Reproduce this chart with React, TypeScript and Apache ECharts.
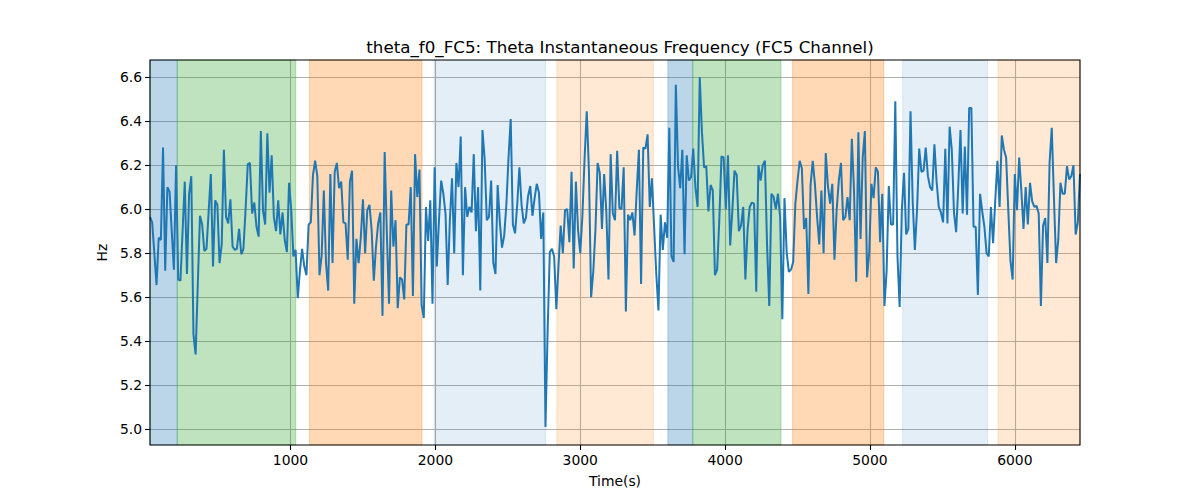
import { useEffect, useRef } from 'react'
import * as echarts from 'echarts'

// sampling grid of the frequency estimate (s)
const TIME_START = 30
const TIME_STEP = 15

// theta instantaneous frequency, FC5 channel (Hz)
const FREQ_HZ: number[] = [
  5.965, 5.94, 5.8, 5.655, 5.87, 5.86, 6.28, 5.72, 6.1, 6.08,
  5.9, 5.725, 6.2, 5.68, 5.675, 5.9, 6.125, 5.705, 6.07, 6.15,
  5.43, 5.34, 5.66, 5.97, 5.93, 5.81, 5.82, 5.99, 6.16, 5.74,
  6.04, 6.02, 5.755, 5.84, 6.27, 5.965, 5.935, 6.045, 5.83, 5.815,
  5.82, 5.91, 5.795, 5.82, 6.0, 6.205, 6.21, 5.98,
  6.03, 5.92, 5.875, 6.355, 5.995, 5.93, 6.345, 6.075, 6.245, 5.965,
  5.9, 6.04, 5.885, 5.985, 5.86, 5.805, 6.12, 5.995, 5.785, 5.815,
  5.595, 5.72, 5.82, 5.74, 5.7, 5.93, 5.94, 6.155, 6.22, 6.15,
  5.7, 5.79, 6.085, 5.755, 5.63, 6.16, 5.755, 6.17, 6.21, 6.095,
  6.125, 5.94, 5.935, 5.77, 6.125, 6.175, 5.57, 5.865,
  5.755, 5.87, 6.045, 5.8, 5.995, 6.02, 5.905, 5.675, 5.83, 5.935,
  5.985, 5.515, 6.26, 5.89, 5.57, 6.085, 5.83, 5.95, 5.55, 5.69,
  5.68, 5.59, 5.93, 5.93, 6.1, 5.605, 6.25, 6.055, 6.18, 5.565,
  5.505, 6.01, 5.855, 6.04, 5.57, 6.19, 5.74, 5.95, 6.13, 6.07,
  5.98, 5.655, 5.95, 6.14, 5.8, 6.21, 6.1,
  6.33, 5.7, 6.1, 5.965, 6.01, 5.985, 6.25, 5.9, 6.1, 5.63,
  6.36, 6.23, 5.95, 5.965, 6.13, 5.755, 5.705, 6.11, 5.94, 5.825,
  5.88, 6.02, 6.235, 6.41, 5.93, 5.89, 6.02, 6.19, 6.02, 5.935,
  5.96, 6.06, 6.105, 5.97, 6.05, 6.115, 6.075, 5.865, 5.985, 5.01,
  5.45, 5.805, 5.82, 5.785, 5.545, 5.745, 5.925, 5.8,
  5.995, 6.0, 5.85, 6.17, 5.73, 6.125, 5.905, 5.8, 5.97, 6.23,
  6.445, 6.175, 5.6, 5.715, 5.905, 6.21, 6.165, 5.91, 6.16, 5.99,
  5.68, 6.25, 5.98, 5.95, 6.265, 6.005, 6.0, 6.19, 5.535, 5.975,
  5.95, 5.985, 5.88, 6.085, 6.27, 5.66, 6.28, 6.275, 6.34, 6.01,
  6.14, 5.92, 5.705, 5.54, 5.975, 5.815, 5.94, 5.87,
  6.37, 5.785, 5.76, 6.565, 6.195, 6.095, 6.27, 5.795, 6.245, 6.13,
  6.145, 6.275, 6.1, 6.01, 6.6, 6.35, 6.19, 6.195, 5.99, 6.11,
  6.085, 5.7, 5.725, 5.95, 6.24, 6.235, 6.0, 6.245, 5.835, 5.995,
  6.175, 6.155, 5.9, 5.925, 6.01, 5.68, 5.905, 6.01, 6.03, 6.025,
  5.625, 6.2, 6.13, 6.2, 6.22, 5.83, 5.56, 6.07,
  6.055, 6.0, 6.07, 5.965, 5.5, 6.05, 5.805, 5.715, 5.725, 5.76,
  6.025, 6.13, 6.22, 6.185, 5.91, 5.96, 5.615, 6.11, 6.22, 6.115,
  5.965, 5.84, 6.085, 5.8, 6.255, 6.105, 6.025, 6.115, 5.77, 5.995,
  6.13, 6.21, 5.95, 5.965, 6.055, 5.95, 6.32, 6.085, 5.67, 6.35,
  5.865, 6.235, 6.355, 5.69, 5.805, 6.115, 6.05, 6.19,
  6.17, 5.85, 6.07, 5.56, 5.72, 6.105, 5.93, 5.93, 6.49, 5.785,
  5.555, 5.995, 6.165, 5.885, 5.91, 6.445, 6.035, 5.815, 5.995, 6.275,
  6.17, 6.175, 6.28, 6.15, 6.1, 6.085, 6.295, 6.125, 6.01, 5.985,
  5.94, 6.275, 5.935, 6.375, 6.27, 5.985, 5.895, 6.11, 6.36, 5.98,
  6.285, 5.975, 6.46, 6.46, 5.92, 5.92, 5.61,
  6.07, 5.99, 5.92, 5.8, 5.785, 6.01, 5.845, 6.04, 6.22, 6.01,
  6.335, 6.27, 6.235, 5.995, 5.765, 5.68, 6.16, 5.995, 6.235, 6.085,
  5.91, 6.1, 5.93, 6.12, 6.035, 6.01, 6.015, 5.98, 5.56, 5.925,
  5.96, 5.755, 6.21, 6.37, 6.055, 5.755, 5.86, 6.12, 6.07, 6.07,
  6.195, 6.135, 6.15, 6.2, 5.885, 5.94, 6.16,
]

// shaded segments (s)
const BAND_START = [30, 218, 1131, 1992, 2838, 3605, 3777, 4466, 5226, 5884]
const BAND_END = [218, 1036, 1908, 2762, 3505, 3777, 4386, 5096, 5812, 6450]
const BAND_KIND = ['blue', 'green', 'orange', 'paleBlue', 'paleOrange', 'blue', 'green', 'orange', 'paleBlue', 'paleOrange']

const X_TICKS = [1000, 2000, 3000, 4000, 5000, 6000]
const Y_TICKS = [5.0, 5.2, 5.4, 5.6, 5.8, 6.0, 6.2, 6.4, 6.6]

const BAND_COLORS: Record<string, string> = {
  blue: 'rgba(31, 119, 180, 0.3)',
  green: 'rgba(44, 160, 44, 0.3)',
  orange: 'rgba(255, 127, 14, 0.3)',
  paleBlue: 'rgba(31, 119, 180, 0.12)',
  paleOrange: 'rgba(255, 127, 14, 0.18)',
}

const FONT = 'DejaVu Sans, sans-serif'

export default function App() {
  const chartRef = useRef<HTMLDivElement>(null)

  useEffect(() => {
    if (!chartRef.current) return

    const chart = echarts.init(chartRef.current, undefined, { renderer: 'svg' })

    const points = FREQ_HZ.map((v, i) => [TIME_START + i * TIME_STEP, v])
    const bands = BAND_START.map((start, i) => [
      {
        xAxis: start,
        itemStyle: {
          color: BAND_COLORS[BAND_KIND[i]],
          borderColor: BAND_COLORS[BAND_KIND[i]],
          borderWidth: 1,
        },
      },
      { xAxis: BAND_END[i] },
    ])

    const tickStyle = { color: '#000', width: 1.1 }
    const gridLine = { show: true, lineStyle: { color: '#b0b0b0', width: 1.1 } }

    const option: any = {
      animation: false,
      backgroundColor: '#fff',
      title: {
        text: 'theta_f0_FC5: Theta Instantaneous Frequency (FC5 Channel)',
        left: 615,
        top: 33,
        textAlign: 'center',
        textStyle: { fontFamily: FONT, fontSize: 16.7, fontWeight: 'normal', color: '#000' },
      },
      grid: {
        left: 150,
        right: 120,
        top: 60,
        bottom: 55,
        show: true,
        borderColor: '#000',
        borderWidth: 1.1,
        backgroundColor: 'transparent',
        z: 5,
      },
      xAxis: {
        type: 'value',
        min: 30,
        max: 6450,
        z: 1,
        name: 'Time(s)',
        nameLocation: 'middle',
        nameGap: 29,
        nameTextStyle: { fontFamily: FONT, fontSize: 13.9, color: '#000' },
        axisLine: { show: false },
        axisTick: { show: true, length: 5, lineStyle: tickStyle, customValues: X_TICKS },
        axisLabel: {
          margin: 8,
          fontFamily: FONT,
          fontSize: 13.9,
          color: '#000',
          customValues: X_TICKS,
          formatter: (v: number) => String(v),
        },
        splitLine: gridLine,
      },
      yAxis: {
        type: 'value',
        min: 4.928,
        max: 6.678,
        z: 1,
        name: 'Hz',
        nameLocation: 'middle',
        nameGap: 40,
        nameRotate: 90,
        nameTextStyle: { fontFamily: FONT, fontSize: 13.9, color: '#000' },
        axisLine: { show: false },
        axisTick: { show: true, length: 5, lineStyle: tickStyle, customValues: Y_TICKS },
        axisLabel: {
          margin: 8,
          fontFamily: FONT,
          fontSize: 13.9,
          color: '#000',
          customValues: Y_TICKS,
          formatter: (v: number) => v.toFixed(1),
        },
        splitLine: gridLine,
      },
      series: [
        {
          name: 'segments',
          type: 'line',
          data: [],
          z: 0,
          silent: true,
          markArea: { silent: true, data: bands },
        },
        {
          name: 'theta_f0_FC5',
          type: 'line',
          data: points,
          z: 2,
          showSymbol: false,
          symbol: 'none',
          lineStyle: { color: '#1f77b4', width: 2 },
          itemStyle: { color: '#1f77b4' },
        },
      ],
    }

    chart.setOption(option)

    return () => {
      chart.dispose()
    }
  }, [])

  return (
    <div
      ref={chartRef}
      style={{ position: 'fixed', left: 0, top: 0, width: '1200px', height: '500px' }}
    />
  )
}
